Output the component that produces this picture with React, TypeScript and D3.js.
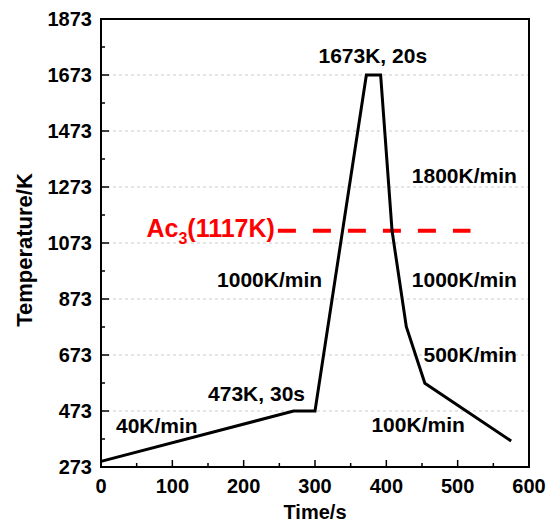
import React, { useRef, useEffect } from 'react';
import * as d3 from 'd3';

// thermal cycle: time (s) / temperature (K)
const times = [0, 270, 300, 372, 392, 408, 428, 454, 575];
const temps = [293, 473, 473, 1673, 1673, 1117, 774, 572, 366];

const xTicks = [0, 100, 200, 300, 400, 500, 600];
const yTicks = [273, 473, 673, 873, 1073, 1273, 1473, 1673, 1873];

const ac3Temp = 1117;
const ac3Span = [248, 518];

const labelTexts = ['1673K, 20s', '1800K/min', '1000K/min', '500K/min', '100K/min', '1000K/min', '473K, 30s', '40K/min'];
const labelTimes = [381, 583, 583, 583, 510, 310, 286, 21];
const labelTemps = [1716, 1287, 916, 648, 398, 916, 509, 394];
const labelAnchors = ['middle', 'end', 'end', 'end', 'end', 'end', 'end', 'start'];

const App = () => {
  const ref = useRef<SVGSVGElement>(null);

  useEffect(() => {
    const width = 559;
    const height = 522;
    const marginLeft = 101;
    const marginRight = 30;
    const marginTop = 19;
    const marginBottom = 55;
    const font = "'Liberation Sans', Arial, sans-serif";

    const svg = d3.select(ref.current);
    svg.selectAll('*').remove();
    svg.attr('width', width).attr('height', height).attr('viewBox', [0, 0, width, height]);

    const x = d3.scaleLinear().domain([0, 600]).range([marginLeft, width - marginRight]);
    const y = d3.scaleLinear().domain([273, 1873]).range([height - marginBottom, marginTop]);

    // grid
    svg.append('g')
      .selectAll('line')
      .data(yTicks.slice(1, -1))
      .join('line')
      .attr('x1', x(0)).attr('x2', x(600))
      .attr('y1', d => y(d)).attr('y2', d => y(d))
      .attr('stroke', '#cccccc')
      .attr('stroke-width', 1)
      .attr('stroke-dasharray', '3,3');

    // minor ticks
    const xMinor = d3.range(50, 600, 100);
    const yMinor = d3.range(373, 1873, 200);
    const ticks = svg.append('g').attr('stroke', '#000').attr('stroke-width', 1.5);
    ticks.selectAll('.xmaj').data(xTicks.slice(1, -1)).join('line')
      .attr('x1', d => x(d)).attr('x2', d => x(d))
      .attr('y1', y(273)).attr('y2', y(273) - 7);
    ticks.selectAll('.xmin').data(xMinor).join('line').attr('class', 'xmin')
      .attr('x1', d => x(d)).attr('x2', d => x(d))
      .attr('y1', y(273)).attr('y2', y(273) - 4);
    ticks.selectAll('.ymaj').data(yTicks.slice(1, -1)).join('line').attr('class', 'ymaj')
      .attr('x1', x(0)).attr('x2', x(0) + 8)
      .attr('y1', d => y(d)).attr('y2', d => y(d));
    ticks.selectAll('.ymin').data(yMinor).join('line').attr('class', 'ymin')
      .attr('x1', x(0)).attr('x2', x(0) + 4)
      .attr('y1', d => y(d)).attr('y2', d => y(d));

    // frame
    svg.append('rect')
      .attr('x', x(0)).attr('y', y(1873))
      .attr('width', x(600) - x(0)).attr('height', y(273) - y(1873))
      .attr('fill', 'none').attr('stroke', '#000').attr('stroke-width', 2);

    // tick labels
    svg.append('g')
      .selectAll('text')
      .data(xTicks)
      .join('text')
      .attr('x', d => x(d))
      .attr('y', y(273) + 26)
      .attr('text-anchor', 'middle')
      .attr('font-family', font).attr('font-weight', 'bold').attr('font-size', 20)
      .text(d => d);

    svg.append('g')
      .selectAll('text')
      .data(yTicks)
      .join('text')
      .attr('x', x(0) - 9)
      .attr('y', d => y(d))
      .attr('dy', '0.35em')
      .attr('text-anchor', 'end')
      .attr('font-family', font).attr('font-weight', 'bold').attr('font-size', 20)
      .text(d => d);

    // axis titles
    svg.append('text')
      .attr('x', (x(0) + x(600)) / 2)
      .attr('y', height - 3)
      .attr('text-anchor', 'middle')
      .attr('font-family', font).attr('font-weight', 'bold').attr('font-size', 20)
      .text('Time/s');

    svg.append('text')
      .attr('transform', `translate(32,${(y(273) + y(1873)) / 2 + 7}) rotate(-90)`)
      .attr('text-anchor', 'middle')
      .attr('font-family', font).attr('font-weight', 'bold').attr('font-size', 22)
      .text('Temperature/K');

    // Ac3 line
    svg.append('line')
      .attr('x1', x(ac3Span[0])).attr('x2', x(ac3Span[1]))
      .attr('y1', y(ac3Temp)).attr('y2', y(ac3Temp))
      .attr('stroke', '#ff0000')
      .attr('stroke-width', 4)
      .attr('stroke-dasharray', '18,17');

    const ac3 = svg.append('text')
      .attr('x', x(ac3Span[0]) - 3)
      .attr('y', y(ac3Temp) + 6)
      .attr('text-anchor', 'end')
      .attr('fill', '#ff0000')
      .attr('font-family', font).attr('font-weight', 'bold').attr('font-size', 25);
    ac3.append('tspan').text('Ac');
    ac3.append('tspan').attr('font-size', 16).attr('dy', 7).text('3');
    ac3.append('tspan').attr('dy', -7).text('(1117K)');

    // curve
    const line = d3.line<number>()
      .x((d, i) => x(times[i]))
      .y(d => y(d));
    svg.append('path')
      .datum(temps)
      .attr('d', line)
      .attr('fill', 'none')
      .attr('stroke', '#000')
      .attr('stroke-width', 3)
      .attr('stroke-linejoin', 'miter');

    // annotations
    svg.append('g')
      .selectAll('text')
      .data(labelTexts)
      .join('text')
      .attr('x', (d, i) => x(labelTimes[i]))
      .attr('y', (d, i) => y(labelTemps[i]))
      .attr('text-anchor', (d, i) => labelAnchors[i])
      .attr('font-family', font).attr('font-weight', 'bold').attr('font-size', 21)
      .text(d => d);
  }, []);

  return <svg ref={ref} style={{ position: 'absolute', left: 0, top: 0 }}></svg>;
};

export default App;
